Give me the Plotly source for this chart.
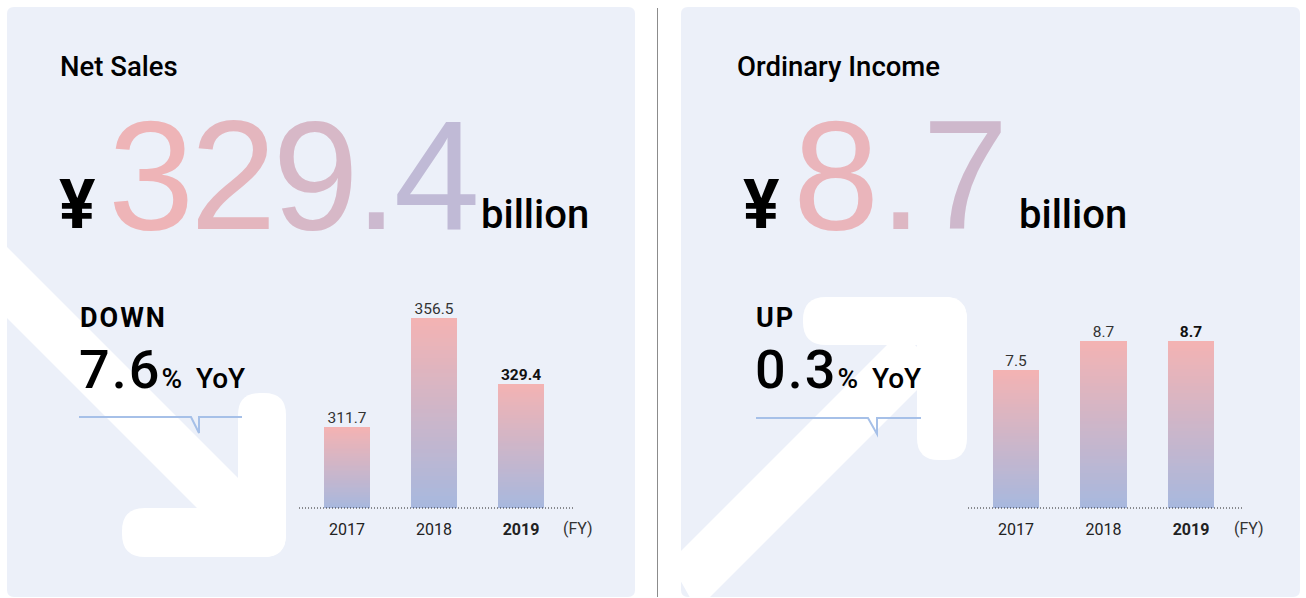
import plotly.graph_objects as go

W, H = 1306, 598

# ---------------- data ----------------
YEARS = ["2017", "2018", "2019"]
TICK_TEXT = ["2017", "2018", "<b>2019</b>"]
NET_SALES = [311.7, 356.5, 329.4]
ORD_INCOME = [7.5, 8.7, 8.7]
NET_SALES_LABELS = ["311.7", "356.5", "<b>329.4</b>"]
ORD_INCOME_LABELS = ["7.5", "8.7", "<b>8.7</b>"]
HEADLINES = ["Net Sales", "Ordinary Income"]
BIG_VALUES = ["329.4", "8.7"]
CHANGE_DIR = ["DOWN", "UP"]
CHANGE_PCT = ["7.6", "0.3"]
FY_LABEL = "(FY)"

# ---------------- styling ----------------
PANEL_BG = "#ECF0F9"
PINK = (244, 179, 179)
BLUE = (167, 184, 222)
LINE_BLUE = "#A6C0E8"
FONT = "Roboto"
BIGFONT = "Liberation Sans"
BIG_COLORS = [["#EEB4B7", "#E4B6BE", "#D7B8C7", "#CCB9CF", "#C0BAD6"],
              ["#EAB5BB", "#DDB7C3", "#CEB8CC"]]
BIG_TRACKING = [-4, 0]


def X(px):
    return px / W


def Y(py):
    return 1 - py / H


def path(points, close=True):
    s = "M " + " L ".join(f"{X(x):.5f},{Y(y):.5f}" for x, y in points)
    return s + (" Z" if close else "")


def rrect(x0, y0, x1, y1, r):
    def p(x, y):
        return f"{X(x):.5f},{Y(y):.5f}"
    return (f"M {p(x0 + r, y0)} L {p(x1 - r, y0)} Q {p(x1, y0)} {p(x1, y0 + r)} "
            f"L {p(x1, y1 - r)} Q {p(x1, y1)} {p(x1 - r, y1)} "
            f"L {p(x0 + r, y1)} Q {p(x0, y1)} {p(x0, y1 - r)} "
            f"L {p(x0, y0 + r)} Q {p(x0, y0)} {p(x0 + r, y0)} Z")


def lerp(t):
    c = [round(BLUE[i] + (PINK[i] - BLUE[i]) * t) for i in range(3)]
    return f"rgb({c[0]},{c[1]},{c[2]})"


fig = go.Figure()
shapes = []
anns = []

# panels
shapes.append(dict(type="path", path=rrect(7, 7, 635, 597, 7), fillcolor=PANEL_BG,
                   line=dict(width=0), layer="below", xref="paper", yref="paper"))
shapes.append(dict(type="path", path=rrect(681, 7, 1300, 597, 7), fillcolor=PANEL_BG,
                   line=dict(width=0), layer="below", xref="paper", yref="paper"))
# divider
shapes.append(dict(type="line", x0=X(657.5), x1=X(657.5), y0=Y(8), y1=Y(597), xref="paper",
                   yref="paper", line=dict(color="#8C8C8C", width=1), layer="below"))

# white arrows
WHITE = dict(fillcolor="white", line=dict(width=0), layer="below", xref="paper", yref="paper")
# left (down) arrow
shapes.append(dict(type="path", path=path([(0, 240), (262, 502), (230, 541), (0, 311)]), **WHITE))
shapes.append(dict(type="path", path=rrect(238, 393, 286, 557, 22), **WHITE))
shapes.append(dict(type="path", path=rrect(122, 508, 286, 557, 23), **WHITE))
# right (up) arrow
shapes.append(dict(type="path", path=path([(670, 562), (900, 332), (940, 367), (697, 610)]), **WHITE))
shapes.append(dict(type="path", path=rrect(803, 297, 967, 345, 23), **WHITE))
shapes.append(dict(type="path", path=rrect(917, 297, 967, 460, 22), **WHITE))

# callout lines
for pts in ([(79, 417), (191, 417), (199, 433), (199, 417), (242, 417)],
            [(756, 418), (868, 418), (877, 434), (877, 418), (921, 418)]):
    shapes.append(dict(type="path", path=path(pts, close=False), line=dict(color=LINE_BLUE, width=2),
                       layer="below", xref="paper", yref="paper"))


def text(x, baseline, txt, size, weight=400, color="#000", anchor="left", family=FONT, k=0.34):
    anns.append(dict(x=X(x), y=Y(baseline - k * size), xref="paper", yref="paper", text=txt,
                     showarrow=False, xanchor=anchor, yanchor="middle",
                     font=dict(family=family, size=size, color=color, weight=weight)))


def gradient_text(s, colors, tracking):
    return "".join(f"<span style='color:{c};letter-spacing:{tracking}px'>{ch}</span>"
                   for ch, c in zip(s, colors))


def spaced(s, px):
    return f"<span style='letter-spacing:{px}px'>{s}</span>"


# headline texts
layout_pos = [
    dict(title=58, yen=57, big=106, billion=479, dirx=78, pct=77),
    dict(title=735, yen=741, big=791, billion=1017, dirx=754, pct=753),
]
for i in range(2):
    p = layout_pos[i]
    text(p["title"], 76, HEADLINES[i], 27.5, 500)
    text(p["yen"], 228, "¥", 68, 700)
    text(p["big"], 229, gradient_text(BIG_VALUES[i], BIG_COLORS[i], BIG_TRACKING[i]), 155, 400,
         family=BIGFONT, k=0.3465)
    text(p["billion"], 228, "billion", 40, 500)
    text(p["dirx"], 327, spaced(CHANGE_DIR[i], 2), 27, 700)
    text(p["pct"], 388, spaced(CHANGE_PCT[i], 2)
         + "<span style='font-size:28px'>%  YoY</span>", 54, 500)

# ---------------- bar charts ----------------
panels = [
    dict(vals=NET_SALES, labels=NET_SALES_LABELS, floor=278.4, ppu=2.433,
         xdom=(299, 574), xr=(-0.552, 2.609), xa="x", ya="y", fy=578),
    dict(vals=ORD_INCOME, labels=ORD_INCOME_LABELS, floor=1.79, ppu=24.17,
         xdom=(968, 1244), xr=(-0.549, 2.606), xa="x2", ya="y2", fy=1249),
]
YTOP_PX, YBOT_PX = 290, 508
N = 48
BW = 0.53
for k, pnl in enumerate(panels):
    vals, floor = pnl["vals"], pnl["floor"]
    fig.add_trace(go.Bar(x=YEARS, y=vals, xaxis=pnl["xa"], yaxis=pnl["ya"], width=BW,
                         marker=dict(color=lerp(0.5), line=dict(width=0)), showlegend=False,
                         hovertemplate="%{x}: %{y}<extra></extra>"))
    for s in range(N):
        bases = [floor + (v - floor) * s / N for v in vals]
        hs = [(v - floor) / N for v in vals]
        fig.add_trace(go.Bar(x=YEARS, y=hs, base=bases, xaxis=pnl["xa"], yaxis=pnl["ya"], width=BW,
                             marker=dict(color=lerp((s + 0.5) / N), line=dict(width=0)),
                             showlegend=False, hoverinfo="skip"))
    # value labels above bars
    fig.add_trace(go.Scatter(x=YEARS, y=vals, xaxis=pnl["xa"], yaxis=pnl["ya"], mode="text",
                             text=pnl["labels"], textposition="top center", cliponaxis=False,
                             textfont=dict(family=FONT, size=15.5,
                                           color=["#333", "#333", "#111"]),
                             showlegend=False, hoverinfo="skip"))
    ax_suffix = "" if k == 0 else "2"
    fig.update_layout(**{
        f"xaxis{ax_suffix}": dict(domain=[X(pnl["xdom"][0]), X(pnl["xdom"][1])], range=list(pnl["xr"]),
                                  type="category", tickvals=YEARS, ticktext=TICK_TEXT,
                                  showgrid=False, zeroline=False, showline=False,
                                  ticks="outside", ticklen=7, tickcolor="rgba(0,0,0,0)",
                                  tickfont=dict(family=FONT, size=16, color="#222"),
                                  anchor=pnl["ya"], fixedrange=True),
        f"yaxis{ax_suffix}": dict(domain=[Y(YBOT_PX), Y(YTOP_PX)],
                                  range=[floor, floor + (YBOT_PX - YTOP_PX) / pnl["ppu"]],
                                  visible=False, anchor=pnl["xa"], fixedrange=True),
    })
    shapes.append(dict(type="line", xref=f"{pnl['xa']} domain", yref=f"{pnl['ya']} domain",
                       x0=0, x1=1, y0=0, y1=0, line=dict(color="#222", width=1, dash="1px,2px"),
                       layer="above"))
    anns.append(dict(x=X(pnl["fy"]), y=Y(528), xref="paper", yref="paper", text=FY_LABEL,
                     showarrow=False, xanchor="center", yanchor="middle",
                     font=dict(family=FONT, size=16, color="#333")))

fig.update_layout(width=W, height=H, autosize=False, margin=dict(l=0, r=0, t=0, b=0, pad=0),
                  paper_bgcolor="white", plot_bgcolor="rgba(0,0,0,0)", barmode="overlay",
                  bargap=0, shapes=shapes, annotations=anns, showlegend=False)

fig.write_html("out.html", config={"displayModeBar": False},
               post_script="document.body.style.margin='0';")
